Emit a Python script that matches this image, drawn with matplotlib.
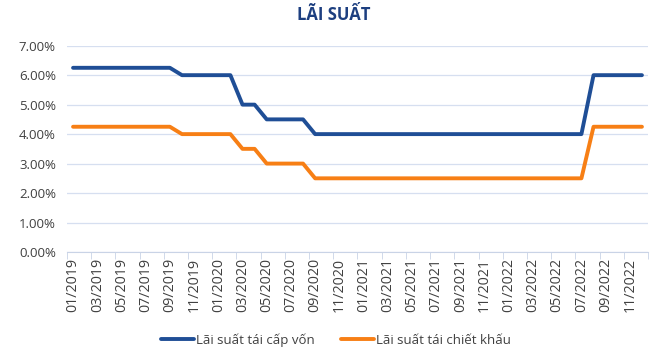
import matplotlib
matplotlib.use("Agg")
import matplotlib.pyplot as plt
from matplotlib.ticker import FuncFormatter, MultipleLocator

plt.rcParams['font.family'] = ['Open Sans', 'DejaVu Sans']

months = [f"{m:02d}/{y}" for y in range(2019, 2023) for m in range(1, 13)]
refinancing = [6.25]*9 + [6.0]*5 + [5.0]*2 + [4.5]*4 + [4.0]*23 + [6.0]*5
discount = [4.25]*9 + [4.0]*5 + [3.5]*2 + [3.0]*4 + [2.5]*23 + [4.25]*5
series_names = ["Lãi suất tái cấp vốn", "Lãi suất tái chiết khấu"]
title = "LÃI SUẤT"

blue = '#1f4e96'
orange = '#f77f15'
txt = '#404040'

fig = plt.figure(figsize=(6.62, 3.57), dpi=100)
ax = fig.add_axes([67/662, 1-252/357, (648-67)/662, (252-45.7)/357])

x = list(range(len(months)))
ax.plot(x, refinancing, color=blue, lw=2.8, solid_capstyle='round', solid_joinstyle='round', label=series_names[0])
ax.plot(x, discount, color=orange, lw=2.8, solid_capstyle='round', solid_joinstyle='round', label=series_names[1])

ax.set_xlim(-0.5, len(months)-0.5)
ax.set_ylim(0, 7)
ax.yaxis.set_major_locator(MultipleLocator(1))
ax.yaxis.set_major_formatter(FuncFormatter(lambda v, p: f"{v:.2f}%"))
ax.grid(axis='y', color='#d6dff0', lw=0.9)
ax.set_axisbelow(True)

ax.set_xticks(x[::2])
ax.set_xticklabels(months[::2], rotation=90, fontsize=10.3, color=txt)
ax.set_xticks([i - 0.5 for i in range(0, len(months)+1, 2)], minor=True)
ax.tick_params(axis='x', which='major', length=0, pad=4)
ax.tick_params(axis='x', which='minor', length=5, color='#c9d3e6')
ax.tick_params(axis='y', length=0, labelsize=9.5, labelcolor=txt, pad=8)

for s in ['top', 'right', 'left']:
    ax.spines[s].set_visible(False)
ax.spines['bottom'].set_color('#c9d3e6')

fig.text(334/662, 1-15/357, title, ha='center', va='center', fontsize=12, fontweight='bold', color='#1d3f80')

fig.legend(loc='center', bbox_to_anchor=(336/662, 1-340/357), ncol=2, frameon=False,
           fontsize=9.5, handlelength=2.5, handletextpad=0.15, columnspacing=2.0,
           labelcolor=txt)

fig.savefig('out.png', dpi=100)
